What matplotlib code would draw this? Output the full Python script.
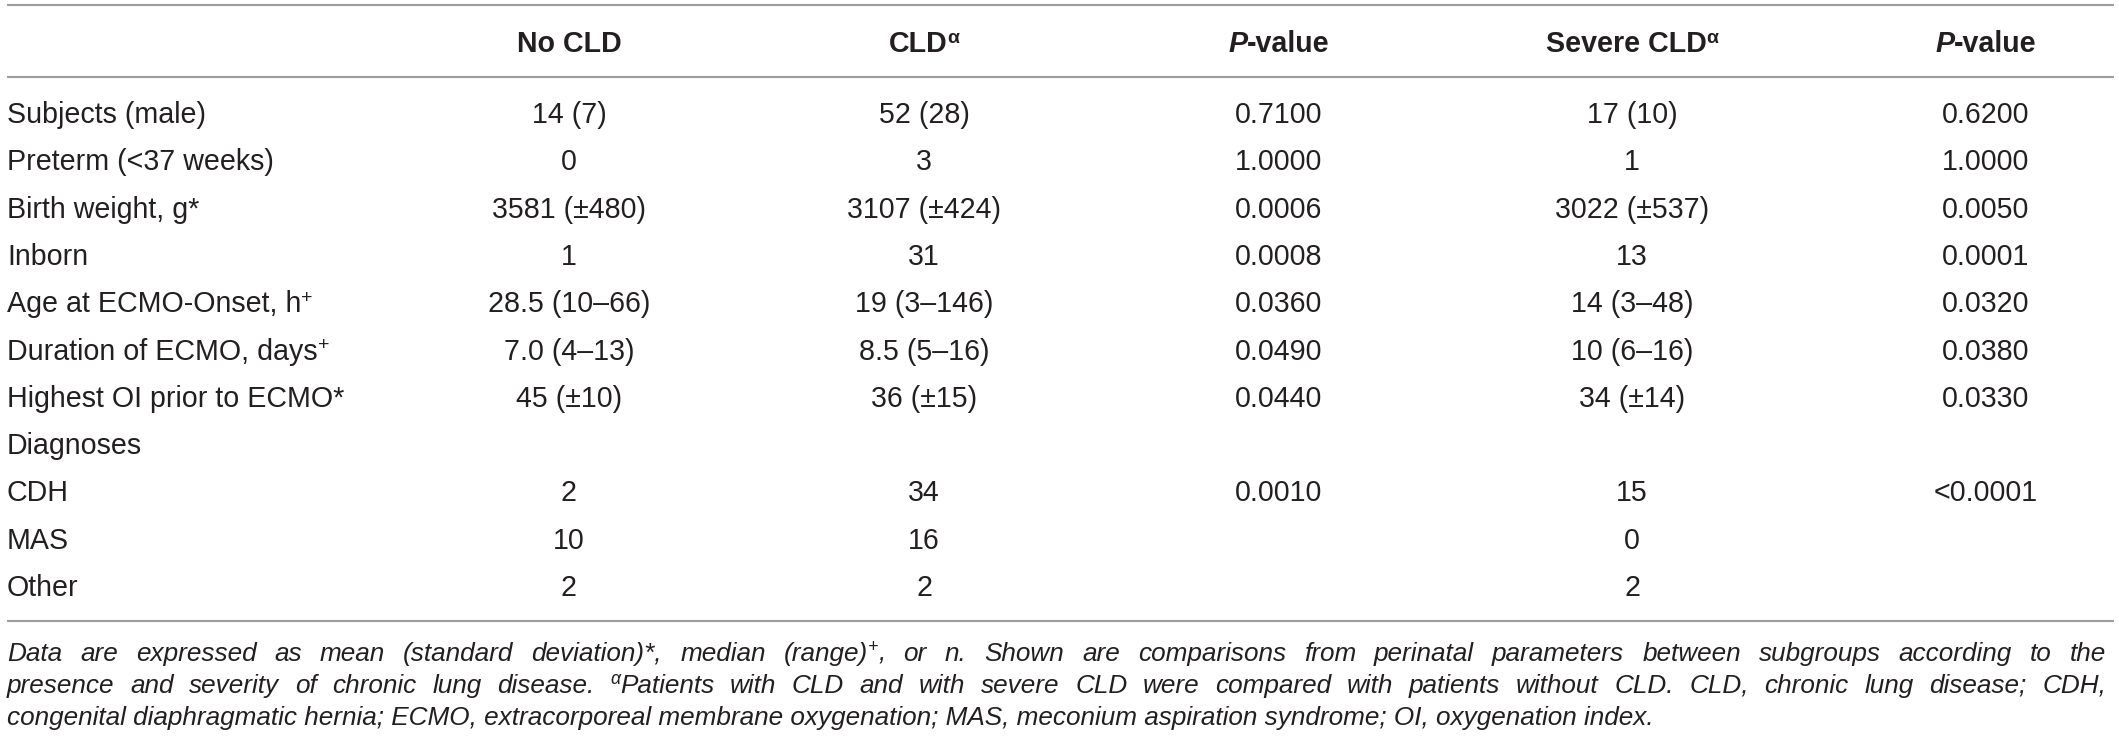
import re
import matplotlib
matplotlib.use("Agg")
import matplotlib.pyplot as plt

plt.rcParams["font.family"] = ["Liberation Sans", "DejaVu Sans"]

# --- datos de la tabla ---
# ^{..} = superindice, ~{..} = cursiva
headers = ["No CLD", "CLD^{α}", "~{P}-value", "Severe CLD^{α}", "~{P}-value"]
row_labels = ["Subjects (male)", "Preterm (<37 weeks)", "Birth weight, g*", "Inborn",
              "Age at ECMO-Onset, h^{+}", "Duration of ECMO, days^{+}",
              "Highest OI prior to ECMO*", "Diagnoses", "CDH", "MAS", "Other"]
no_cld = ["14 (7)", "0", "3581 (±480)", "1", "28.5 (10–66)", "7.0 (4–13)", "45 (±10)",
          "", "2", "10", "2"]
cld = ["52 (28)", "3", "3107 (±424)", "31", "19 (3–146)", "8.5 (5–16)", "36 (±15)",
       "", "34", "16", "2"]
p_cld = ["0.7100", "1.0000", "0.0006", "0.0008", "0.0360", "0.0490", "0.0440",
         "", "0.0010", "", ""]
severe_cld = ["17 (10)", "1", "3022 (±537)", "13", "14 (3–48)", "10 (6–16)", "34 (±14)",
              "", "15", "0", "2"]
p_severe = ["0.6200", "1.0000", "0.0050", "0.0001", "0.0320", "0.0380", "0.0330",
            "", "<0.0001", "", ""]

# nota al pie, en cursiva
caption_lines = [
    "Data are expressed as mean (standard deviation)*, median (range)^{+}, or n. Shown are comparisons from perinatal parameters between subgroups according to the",
    "presence and severity of chronic lung disease. ^{α}Patients with CLD and with severe CLD were compared with patients without CLD. CLD, chronic lung disease; CDH,",
    "congenital diaphragmatic hernia; ECMO, extracorporeal membrane oxygenation; MAS, meconium aspiration syndrome; OI, oxygenation index.",
]

ink = "#231f20"
W, H = 2119, 747
fig = plt.figure(figsize=(W / 100, H / 100), dpi=100)
ax = fig.add_axes([0, 0, 1, 1])
ax.set_xlim(0, W)
ax.set_ylim(H, 0)
ax.axis("off")
renderer = fig.canvas.get_renderer()


def split_runs(s):
    out = []
    for p in re.split(r"(\^\{.*?\}|~\{.*?\})", s):
        if not p:
            continue
        if p.startswith("^{"):
            out.append((p[2:-1], "sup"))
        elif p.startswith("~{"):
            out.append((p[2:-1], "it"))
        else:
            out.append((p, "n"))
    return out


def make(s, size, weight="normal", italic=False):
    items = []
    for txt, kind in split_runs(s):
        fs = size * 0.68 if kind == "sup" else size
        st = "italic" if (kind == "it" or italic) else "normal"
        t = ax.text(0, 0, txt, fontsize=fs, fontweight=weight, fontstyle=st,
                    color=ink, va="baseline", ha="left")
        w = t.get_window_extent(renderer).width
        items.append((t, w, kind))
    return items, sum(w for _, w, _ in items)


def place(items, x, y, size):
    for t, w, kind in items:
        dy = size * 100 / 72 * 0.33 if kind == "sup" else 0
        t.set_position((x, y - dy))
        x += w


def put(x, y, s, size, ha="left", weight="normal", italic=False):
    items, total = make(s, size, weight, italic)
    if ha == "center":
        x -= total / 2
    place(items, x, y, size)


fs = 20.6
left, right = 7, 2114
col_x = [569, 924, 1279, 1632, 1986]

# lineas horizontales
ax.hlines([5, 77, 621], left, right, color="#9d9d9d", lw=1.5)

# cabecera
for cx, h in zip(col_x, headers):
    put(cx, 52, h, fs, ha="center", weight="bold")

# filas
columns = [no_cld, cld, p_cld, severe_cld, p_severe]
for i, lab in enumerate(row_labels):
    y = 123 + 47.3 * i
    put(left, y, lab, fs)
    for cx, col in zip(col_x, columns):
        if col[i]:
            put(cx, y, col[i], fs, ha="center")

# nota al pie (justificada salvo la ultima linea)
cap_fs = 18.8
cap_right = 2106
cap_y = [661, 693, 725]
for k, line in enumerate(caption_lines):
    if k == len(caption_lines) - 1:
        put(left, cap_y[k], line, cap_fs, italic=True)
        continue
    made = [make(w, cap_fs, italic=True) for w in line.split(" ")]
    total = sum(t for _, t in made)
    gap = (cap_right - left - total) / (len(made) - 1)
    x = left
    for items, wd in made:
        place(items, x, cap_y[k], cap_fs)
        x += wd + gap

fig.savefig("out.png", dpi=100)
